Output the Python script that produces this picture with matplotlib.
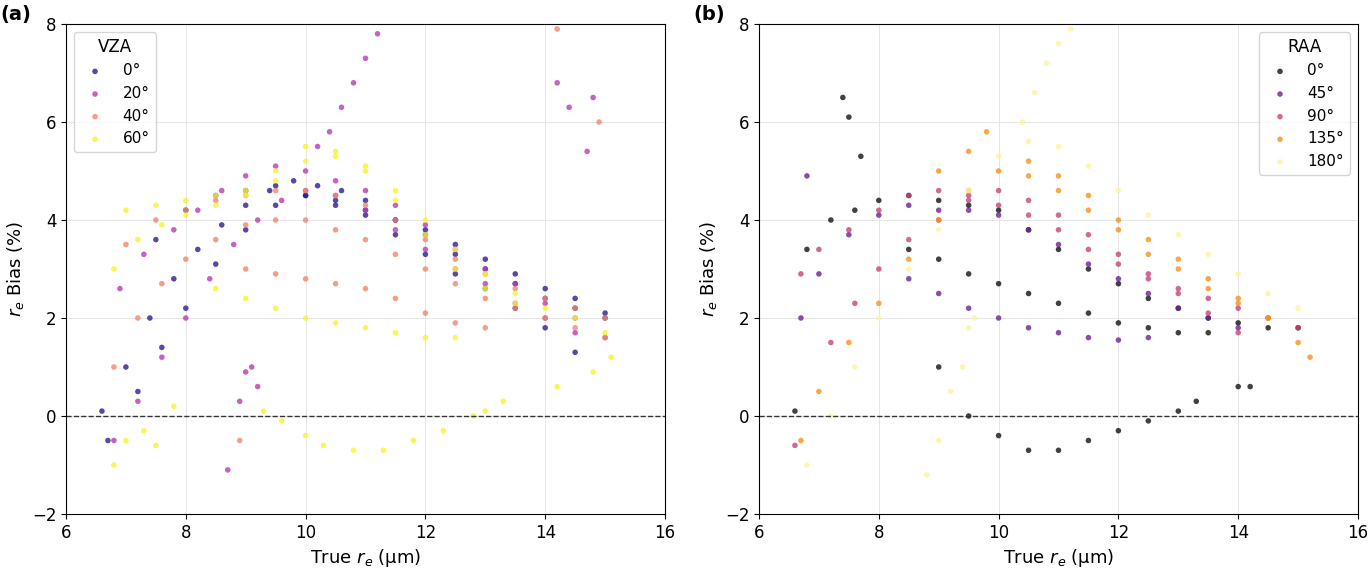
import matplotlib
matplotlib.use('Agg')
import matplotlib.pyplot as plt

# === Data (points along the visible tracks) ===
# (a) VZA
vza0_x = [6.6, 7.0, 7.4, 7.8, 8.2, 8.6, 9.0, 9.4, 9.8, 10.2, 10.6, 11.0, 11.5, 12, 12.5, 13, 13.5, 14, 14.5, 15,
          6.7, 7.2, 7.6, 8.0, 8.5, 9.0, 9.5, 10, 10.5, 11, 11.5, 12, 12.5, 13, 13.5, 14, 14.5,
          7.5, 8, 8.5, 9, 9.5, 10, 10.5, 11, 11.5, 12, 12.5, 13, 13.5, 14, 14.5, 15]
vza0_y = [0.1, 1.0, 2.0, 2.8, 3.4, 3.9, 4.3, 4.6, 4.8, 4.7, 4.6, 4.4, 4.0, 3.7, 3.3, 3.0, 2.7, 2.4, 2.2, 2.0,
          -0.5, 0.5, 1.4, 2.2, 3.1, 3.8, 4.3, 4.5, 4.4, 4.1, 3.7, 3.3, 2.9, 2.6, 2.2, 1.8, 1.3,
          3.6, 4.2, 4.5, 4.6, 4.7, 4.5, 4.3, 4.2, 4.0, 3.8, 3.5, 3.2, 2.9, 2.6, 2.4, 2.1]
vza20_x = [6.8, 7.2, 7.6, 8, 8.4, 8.8, 9.2, 9.6, 10, 10.5, 11, 11.5, 12, 12.5, 13, 13.5, 14, 14.5,
           6.9, 7.3, 7.8, 8.2, 8.6, 9, 9.5, 10, 10.5, 11, 11.5, 12, 12.5, 13, 13.5, 14, 14.5, 15,
           10.2, 10.4, 10.6, 10.8, 11.0, 11.2,
           9.0, 9.2, 8.9, 9.1, 8.7, 14.2, 14.4, 14.8, 14.7]
vza20_y = [-0.5, 0.3, 1.2, 2.0, 2.8, 3.5, 4.0, 4.4, 4.6, 4.5, 4.2, 3.8, 3.4, 3.0, 2.7, 2.3, 2.0, 1.7,
           2.6, 3.3, 3.8, 4.2, 4.6, 4.9, 5.1, 5.0, 4.8, 4.6, 4.3, 3.9, 3.4, 3.0, 2.7, 2.3, 2.0, 1.6,
           5.5, 5.8, 6.3, 6.8, 7.3, 7.8,
           0.9, 0.6, 0.3, 1.0, -1.1, 6.8, 6.3, 6.5, 5.4]
vza40_x = [6.8, 7.2, 7.6, 8.0, 8.5, 9, 9.5, 10, 10.5, 11, 11.5, 12, 12.5, 13, 13.5, 14, 14.5, 15,
           7, 7.5, 8, 8.5, 9, 9.5, 10, 10.5, 11, 11.5, 12, 12.5, 13, 13.5, 14, 14.5, 15,
           9, 9.5, 10, 10.5, 11, 11.5, 12, 12.5, 13, 14.2, 14.9, 8.9]
vza40_y = [1.0, 2.0, 2.7, 3.2, 3.6, 3.9, 4.0, 4.0, 3.8, 3.6, 3.3, 3.0, 2.7, 2.4, 2.2, 2.0, 1.8, 1.6,
           3.5, 4.0, 4.2, 4.4, 4.5, 4.6, 4.6, 4.5, 4.3, 4.0, 3.6, 3.2, 2.9, 2.6, 2.4, 2.2, 2.0,
           3.0, 2.9, 2.8, 2.7, 2.6, 2.4, 2.1, 1.9, 1.8, 7.9, 6.0, -0.5]
vza60_x = [6.8, 7.2, 7.6, 8, 8.5, 9, 9.5, 10, 10.5, 11, 11.5, 12, 12.5, 13, 13.5, 14, 14.5, 15,
           7, 7.5, 8, 8.5, 9, 9.5, 10, 10.5, 11, 11.5, 12, 12.5, 13, 13.5,
           8.5, 9, 9.5, 10, 10.5, 11, 11.5, 12, 12.5,
           9.3, 9.6, 10, 10.3, 10.8, 11.3, 11.8, 12.3, 12.8, 13, 13.3,
           6.8, 7.0, 7.3, 7.5, 7.8, 14.2, 14.8, 15.1]
vza60_y = [3.0, 3.6, 3.9, 4.1, 4.3, 4.5, 4.8, 5.2, 5.3, 5.1, 4.6, 4.0, 3.4, 2.9, 2.5, 2.2, 2.0, 1.7,
           4.2, 4.3, 4.4, 4.5, 4.6, 5.0, 5.5, 5.4, 5.0, 4.4, 3.7, 3.0, 2.6, 2.3,
           2.6, 2.4, 2.2, 2.0, 1.9, 1.8, 1.7, 1.6, 1.6,
           0.1, -0.1, -0.4, -0.6, -0.7, -0.7, -0.5, -0.3, 0.0, 0.1, 0.3,
           -1.0, -0.5, -0.3, -0.6, 0.2, 0.6, 0.9, 1.2]

# (b) RAA
raa0_x = [6.6, 6.8, 7.2, 7.6, 8, 8.5, 9, 9.5, 10, 10.5, 11, 11.5, 12, 12.5, 13, 13.5, 14, 14.5, 15,
          8.5, 9, 9.5, 10, 10.5, 11, 11.5, 12, 12.5, 13, 13.5,
          9, 9.5, 10, 10.5, 11, 11.5, 12, 12.5, 13, 13.3, 7.4, 7.5, 7.7, 14.0, 14.2]
raa0_y = [0.1, 3.4, 4.0, 4.2, 4.4, 4.5, 4.4, 4.3, 4.2, 3.8, 3.4, 3.0, 2.7, 2.4, 2.2, 2.0, 1.9, 1.8, 1.8,
          3.4, 3.2, 2.9, 2.7, 2.5, 2.3, 2.1, 1.9, 1.8, 1.7, 1.7,
          1.0, 0.0, -0.4, -0.7, -0.7, -0.5, -0.3, -0.1, 0.1, 0.3, 6.5, 6.1, 5.3, 0.6, 0.6]
raa45_x = [6.8, 6.7, 7, 7.5, 8, 8.5, 9, 9.5, 10, 10.5, 11, 11.5, 12, 12.5, 13, 13.5, 14,
           8.5, 9, 9.5, 10, 10.5, 11, 11.5, 12, 12.5]
raa45_y = [4.9, 2.0, 2.9, 3.7, 4.1, 4.3, 4.2, 4.2, 4.1, 3.8, 3.5, 3.1, 2.8, 2.5, 2.2, 2.0, 1.8,
           2.8, 2.5, 2.2, 2.0, 1.8, 1.7, 1.6, 1.55, 1.6]
raa90_x = [6.7, 7, 7.5, 8, 8.5, 9, 9.5, 10, 10.5, 11, 11.5, 12, 12.5, 13, 13.5, 14, 14.5, 15, 6.6,
           7.2, 7.6, 8.0, 8.5, 9.0, 9.5, 10, 10.5, 11, 11.5, 12, 12.5, 13, 13.5, 14]
raa90_y = [2.9, 3.4, 3.8, 4.2, 4.5, 4.6, 4.5, 4.3, 4.1, 3.8, 3.4, 3.1, 2.8, 2.6, 2.4, 2.2, 2.0, 1.8, -0.6,
           1.5, 2.3, 3.0, 3.6, 4.0, 4.4, 4.6, 4.4, 4.1, 3.7, 3.3, 2.9, 2.5, 2.1, 1.7]
raa135_x = [6.7, 7, 7.5, 8, 8.5, 9, 9.5, 10, 10.5, 11, 11.5, 12, 12.5, 13, 13.5, 14, 14.5, 15,
            9, 9.5, 9.8, 10.5, 11, 11.5, 12, 12.5, 13, 13.5, 14, 14.5, 15.2]
raa135_y = [-0.5, 0.5, 1.5, 2.3, 3.2, 4.0, 4.6, 5.0, 4.9, 4.6, 4.2, 3.8, 3.3, 3.0, 2.6, 2.3, 2.0, 1.5,
            5.0, 5.4, 5.8, 5.2, 4.9, 4.5, 4.0, 3.6, 3.2, 2.8, 2.4, 2.0, 1.2]
raa180_x = [6.8, 7.2, 7.6, 8, 8.5, 9, 9.5, 10, 10.5, 11, 11.5, 12, 12.5, 13, 13.5, 14, 14.5, 15,
            10.4, 10.6, 10.8, 11, 11.2, 8.8, 9, 9.2, 9.4, 9.5, 9.6]
raa180_y = [-1.0, 0.0, 1.0, 2.0, 3.0, 3.8, 4.6, 5.3, 5.6, 5.5, 5.1, 4.6, 4.1, 3.7, 3.3, 2.9, 2.5, 2.2,
            6.0, 6.6, 7.2, 7.6, 7.9, -1.2, -0.5, 0.5, 1.0, 1.8, 2.0]

vza_labels = ['0°', '20°', '40°', '60°']
vza_colors = ['#2d1b8f', '#b93ab5', '#f0866a', '#f5f52a']
raa_labels = ['0°', '45°', '90°', '135°', '180°']
raa_colors = ['#111111', '#6b2394', '#c7437a', '#f5921c', '#fcf4a0']

panel_a = [(vza0_x, vza0_y), (vza20_x, vza20_y), (vza40_x, vza40_y), (vza60_x, vza60_y)]
panel_b = [(raa0_x, raa0_y), (raa45_x, raa45_y), (raa90_x, raa90_y),
           (raa135_x, raa135_y), (raa180_x, raa180_y)]

fig = plt.figure(figsize=(13.68, 5.69), dpi=100)
ax_a = fig.add_axes([66 / 1368, 55 / 569, 599 / 1368, 490 / 569])
ax_b = fig.add_axes([759 / 1368, 55 / 569, 599 / 1368, 490 / 569])

for ax, data, labels, colors, title, tag in [
        (ax_a, panel_a, vza_labels, vza_colors, 'VZA', '(a)'),
        (ax_b, panel_b, raa_labels, raa_colors, 'RAA', '(b)')]:
    for (x, y), lab, c in zip(data, labels, colors):
        ax.scatter(x, y, s=16, color=c, alpha=0.8, edgecolors='none', label=lab)
    ax.axhline(0, color='#333333', ls='--', lw=1)
    ax.set_xlim(6, 16)
    ax.set_ylim(-2, 8)
    ax.grid(True, color='#e6e6e6', lw=0.7)
    ax.set_axisbelow(True)
    ax.tick_params(labelsize=12)
    ax.set_xlabel('True $r_e$ (µm)', fontsize=13)
    ax.set_ylabel('$r_e$ Bias (%)', fontsize=13)
    loc = 'upper left' if tag == '(a)' else 'upper right'
    ax.legend(title=title, loc=loc, fontsize=11, title_fontsize=12)
    ax.text(-0.11, 1.0, tag, transform=ax.transAxes, fontsize=14, fontweight='bold',
            ha='left', va='bottom')

fig.savefig('out.png', dpi=100)
